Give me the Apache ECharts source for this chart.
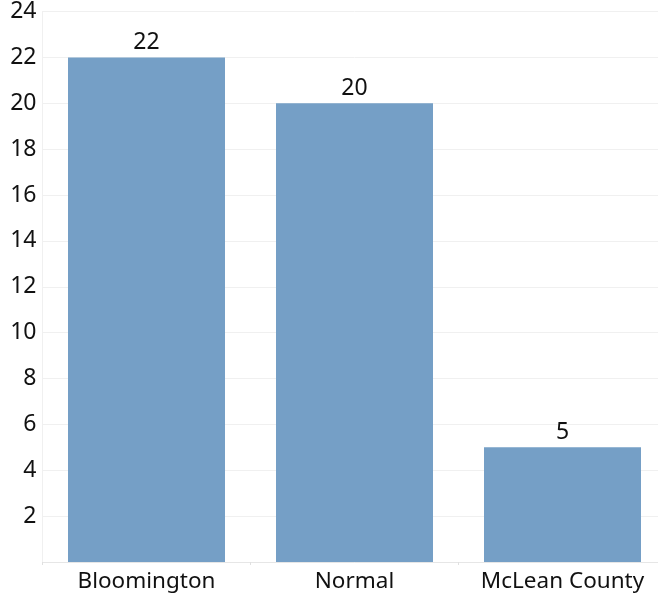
<!DOCTYPE html>
<html>
<head>
<meta charset="utf-8">
<script src="https://cdn.jsdelivr.net/npm/echarts@6/dist/echarts.min.js"></script>
<style>
  html, body { margin: 0; padding: 0; background: #ffffff; overflow: hidden; }
  #wrap { width: 658px; height: 597px; overflow: hidden; }
  #chart { width: 667px; height: 597px; }
</style>
</head>
<body>
<div id="wrap"><div id="chart"></div></div>
<script>
const categories = ['Bloomington', 'Normal', 'McLean County'];
const counts = [22, 20, 5];

const chart = echarts.init(document.getElementById('chart'));
const font = '"Noto Sans", "DejaVu Sans", sans-serif';

chart.setOption({
  animation: false,
  grid: { left: 42.5, right: 0.5, top: 10, bottom: 35, containLabel: false },
  xAxis: {
    type: 'category',
    data: categories,
    axisLine: { show: true, lineStyle: { color: '#e6e6e6' } },
    axisTick: { show: true, length: 3, lineStyle: { color: '#e0e0e0' } },
    axisLabel: { interval: 0, hideOverlap: false, color: '#111', fontSize: 22.5, fontFamily: font, margin: 8 }
  },
  yAxis: {
    type: 'value',
    min: 0,
    max: 24,
    interval: 2,
    axisLine: { show: true, lineStyle: { color: '#f0f0f0' } },
    axisTick: { show: false },
    axisLabel: {
      color: '#111', fontSize: 23, fontFamily: font, margin: 6,
      formatter: v => (v === 0 ? '' : String(v))
    },
    splitLine: { show: true, lineStyle: { color: '#f0f0f0' } }
  },
  series: [{
    type: 'bar',
    data: counts,
    barWidth: 157,
    itemStyle: { color: '#759fc6' },
    label: {
      show: true, position: 'top', distance: 3,
      color: '#111', fontSize: 23, fontFamily: font
    }
  }]
});
</script>
</body>
</html>
